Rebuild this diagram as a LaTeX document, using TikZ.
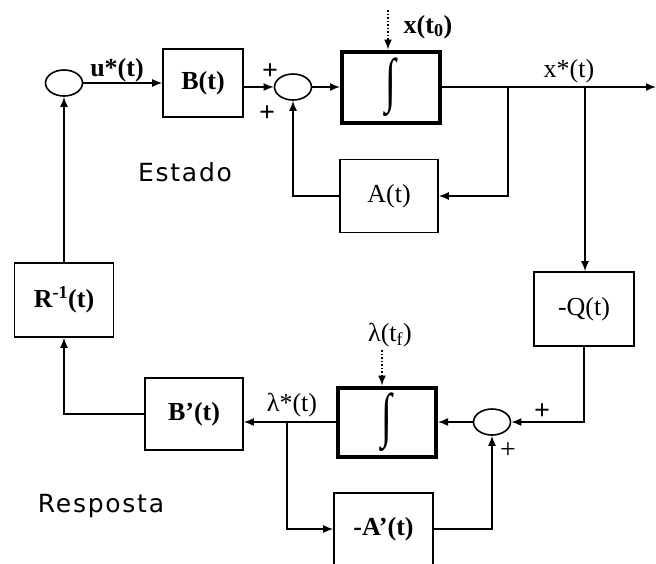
\documentclass[tikz,border=0pt]{standalone}
\usepackage{fontspec}
\setmainfont{Liberation Serif}
\newfontfamily\labelsans[LetterSpace=7]{DejaVu Sans}
\usetikzlibrary{arrows.meta,shapes.geometric}
\begin{document}
\begin{tikzpicture}[x=1pt,y=-1pt,
  blk/.style={draw,line width=1.6pt,rectangle,inner sep=0pt,font=\fontsize{26}{30}\selectfont},
  intg/.style={blk,line width=4pt,font=\fontsize{26}{30}\selectfont\bfseries},
  sumc/.style={draw,ellipse,line width=1.6pt,minimum width=37pt,minimum height=26pt,inner sep=0pt},
  wire/.style={line width=1.5pt},
  arr/.style={wire,-{Latex[length=10pt,width=8pt]}},
  dotarr/.style={arr,dash pattern=on 1.5pt off 2pt},
  lbl/.style={font=\fontsize{26}{30}\selectfont,inner sep=0pt},
  sgn/.style={font=\fontsize{28}{30}\selectfont\bfseries,inner sep=0pt},
  areatxt/.style={font=\fontsize{25}{28}\labelsans,inner sep=0pt}
]
\useasboundingbox (0,0) rectangle (656,563);
\clip (0,0) rectangle (656,563);
% blocks
\node[sumc] (s1) at (64,83) {};
\node[blk,minimum width=80pt,minimum height=68pt] (B) at (203,83) {\bfseries B(t)};
\node[sumc] (s2) at (293,87) {};
\node[intg,minimum width=98pt,minimum height=71pt] (I1) at (391,87) {\scalebox{1.5}[2.3]{∫}};
\node[blk,minimum width=98pt,minimum height=73pt] (A) at (389,196) {A(t)};
\node[blk,minimum width=100pt,minimum height=74pt] (Q) at (584,309) {-Q(t)};
\node[intg,minimum width=98pt,minimum height=69pt] (I2) at (387,422) {\scalebox{1.5}[2.3]{∫}};
\node[sumc] (s3) at (492,422) {};
\node[blk,minimum width=98pt,minimum height=72pt] (Bp) at (194,414) {\bfseries B'(t)};
\node[blk,minimum width=99pt,minimum height=74pt] (R) at (64,300) {\bfseries R\textsuperscript{-1}(t)};
\node[blk,minimum width=99pt,minimum height=72pt] (Ap) at (383.5,529) {\bfseries -A'(t)};
% labels
\node[lbl,font=\fontsize{26}{30}\selectfont\bfseries] (ulab) at (117,70) {u*(t)};
\node[lbl,font=\fontsize{26}{30}\selectfont\bfseries] (x0lab) at (428,27) {x(t\textsubscript{0})};
\node[lbl] (xlab) at (569,71) {x*(t)};
\node[lbl] (llab) at (292,405) {λ*(t)};
\node[lbl] (lflab) at (390,335) {λ(t\textsubscript{f})};
\node[sgn] (p1) at (270,72) {+};
\node[sgn] (p2) at (267,114) {+};
\node[sgn] (p3) at (542,412) {+};
\node[sgn,font=\fontsize{28}{30}\selectfont] (p4) at (508,451) {+};
\node[areatxt] (est) at (185,172) {Estado};
\node[areatxt] (resp) at (101,506) {Resposta};
% coordinates
\coordinate (out) at (656,87);
\coordinate (j1) at (508,87);
\coordinate (j2) at (585,87);
\coordinate (j3) at (287,422);
\coordinate (x0) at (388,10);
\coordinate (lf) at (382,350);
% connectors
\draw[arr] (s1.east) -- (B.west);
\draw[arr] (B.east |- s2.west) -- (s2.west);
\draw[arr] (s2.east) -- (I1.west);
\draw[arr] (I1.east) -- (out);
\draw[arr] (j1) |- (A.east);
\draw[arr] (A.west) -| (s2.south);
\draw[arr] (j2) -- (j2 |- Q.north);
\draw[arr] (Q.south) |- (s3.east);
\draw[arr] (s3.west) -- (I2.east);
\draw[arr] (I2.west) -- (I2.west -| Bp.east);
\draw[arr] (j3) |- (Ap.west);
\draw[arr] (Ap.east) -| (s3.south);
\draw[arr] (Bp.west) -| (R.south);
\draw[arr] (R.north) -- (s1.south);
\draw[dotarr] (x0) -- (x0 |- I1.north);
\draw[dotarr] (lf) -- (lf |- I2.north);
\end{tikzpicture}
\end{document}
